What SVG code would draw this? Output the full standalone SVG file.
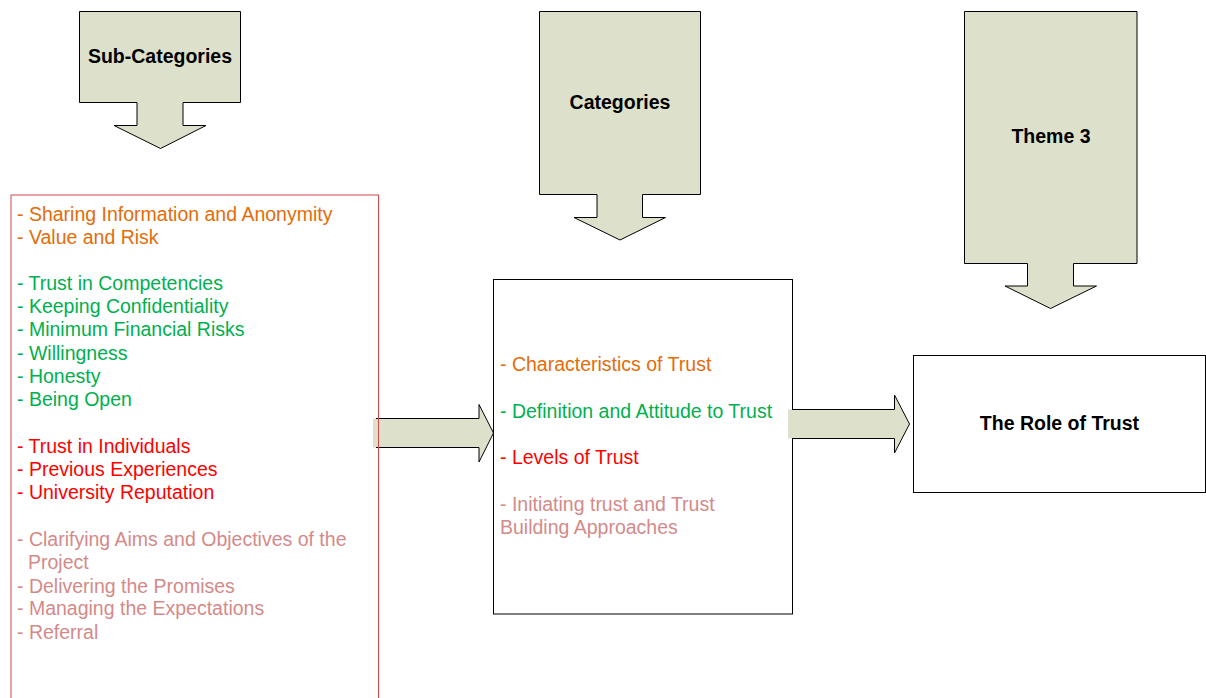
<svg xmlns="http://www.w3.org/2000/svg" width="1206" height="698" viewBox="0 0 1206 698">
<style>
.callout{fill:#DDE1CB;stroke:#000;stroke-width:1}
.box{fill:#fff;stroke:#000;stroke-width:1}
.lbl{font-family:"Liberation Sans",Arial,sans-serif;font-size:19.5px;font-weight:bold;fill:#000;text-anchor:middle}
.t{font-family:"Liberation Sans",Arial,sans-serif;font-size:19.5px}
.o{fill:#E46C0A}.g{fill:#00B050}.r{fill:#FF0000}.p{fill:#D48A89}
.afill{fill:#DDE1CB;stroke:none}
.aline{fill:none;stroke:#000;stroke-width:1}
</style>
<rect width="1206" height="698" fill="#fff"/>

<g id="subcategories-callout">
  <polygon class="callout" points="79.5,11.5 240.5,11.5 240.5,102.5 183,102.5 183,125.5 206,125.5 160.5,148.5 114,125.5 137,125.5 137,102.5 79.5,102.5"/>
  <text class="lbl" x="160" y="63">Sub-Categories</text>
</g>

<g id="categories-callout">
  <polygon class="callout" points="539.5,11.5 700.5,11.5 700.5,194.5 642.5,194.5 642.5,217.5 665.5,217.5 620,240 574,217.5 597,217.5 597,194.5 539.5,194.5"/>
  <text class="lbl" x="620" y="108.5">Categories</text>
</g>

<g id="theme-callout">
  <polygon class="callout" points="964.5,11.5 1137,11.5 1137,263.5 1073.5,263.5 1073.5,286 1096.5,286 1050.5,308.5 1005,286 1027.5,286 1027.5,263.5 964.5,263.5"/>
  <text class="lbl" x="1051" y="143">Theme 3</text>
</g>

<g id="categories-box">
  <rect class="box" x="493.5" y="279.5" width="299" height="334.5"/>
  <text class="t o" x="500" y="370.7">- Characteristics of Trust</text>
  <text class="t g" x="500" y="417.6">- Definition and Attitude to Trust</text>
  <text class="t r" x="500" y="464">- Levels of Trust</text>
  <text class="t p" x="500" y="510.7">- Initiating trust and Trust</text>
  <text class="t p" x="500" y="534.3">Building Approaches</text>
</g>

<g id="role-box">
  <rect class="box" x="913.5" y="355.5" width="292" height="137"/>
  <text class="lbl" x="1059.5" y="430">The Role of Trust</text>
</g>

<g id="connectors">
  <g id="arrow-sub-to-cat">
    <polygon class="afill" points="373,418.5 479,418.5 479,404.5 493.5,433 479,462 479,447.5 373,447.5"/>
    <polyline class="aline" points="376,418.5 479,418.5 479,404.5 493.5,433 479,462 479,447.5 376,447.5"/>
  </g>
  <g id="arrow-cat-to-role">
    <polygon class="afill" points="788,409.5 894.5,409.5 894.5,395 909.5,424 894.5,453 894.5,438.5 788,438.5"/>
    <polyline class="aline" points="792,409.5 894.5,409.5 894.5,395 909.5,424 894.5,453 894.5,438.5 792,438.5"/>
  </g>
</g>

<g id="subcategories-box">
  <rect x="11" y="195" width="367.5" height="520" fill="none" stroke="#D04848" stroke-width="1"/>
  <text class="t o" x="17" y="220.5">- Sharing Information and Anonymity</text>
  <text class="t o" x="17" y="243.5">- Value and Risk</text>
  <text class="t g" x="17" y="290">- Trust in Competencies</text>
  <text class="t g" x="17" y="312.8">- Keeping Confidentiality</text>
  <text class="t g" x="17" y="335.6">- Minimum Financial Risks</text>
  <text class="t g" x="17" y="360">- Willingness</text>
  <text class="t g" x="17" y="383">- Honesty</text>
  <text class="t g" x="17" y="406">- Being Open</text>
  <text class="t r" x="17" y="452.7">- Trust in Individuals</text>
  <text class="t r" x="17" y="475.7">- Previous Experiences</text>
  <text class="t r" x="17" y="498.7">- University Reputation</text>
  <text class="t p" x="17" y="546">- Clarifying Aims and Objectives of the</text>
  <text class="t p" x="28" y="568.8">Project</text>
  <text class="t p" x="17" y="592.6">- Delivering the Promises</text>
  <text class="t p" x="17" y="615.4">- Managing the Expectations</text>
  <text class="t p" x="17" y="638.6">- Referral</text>
</g>
</svg>
